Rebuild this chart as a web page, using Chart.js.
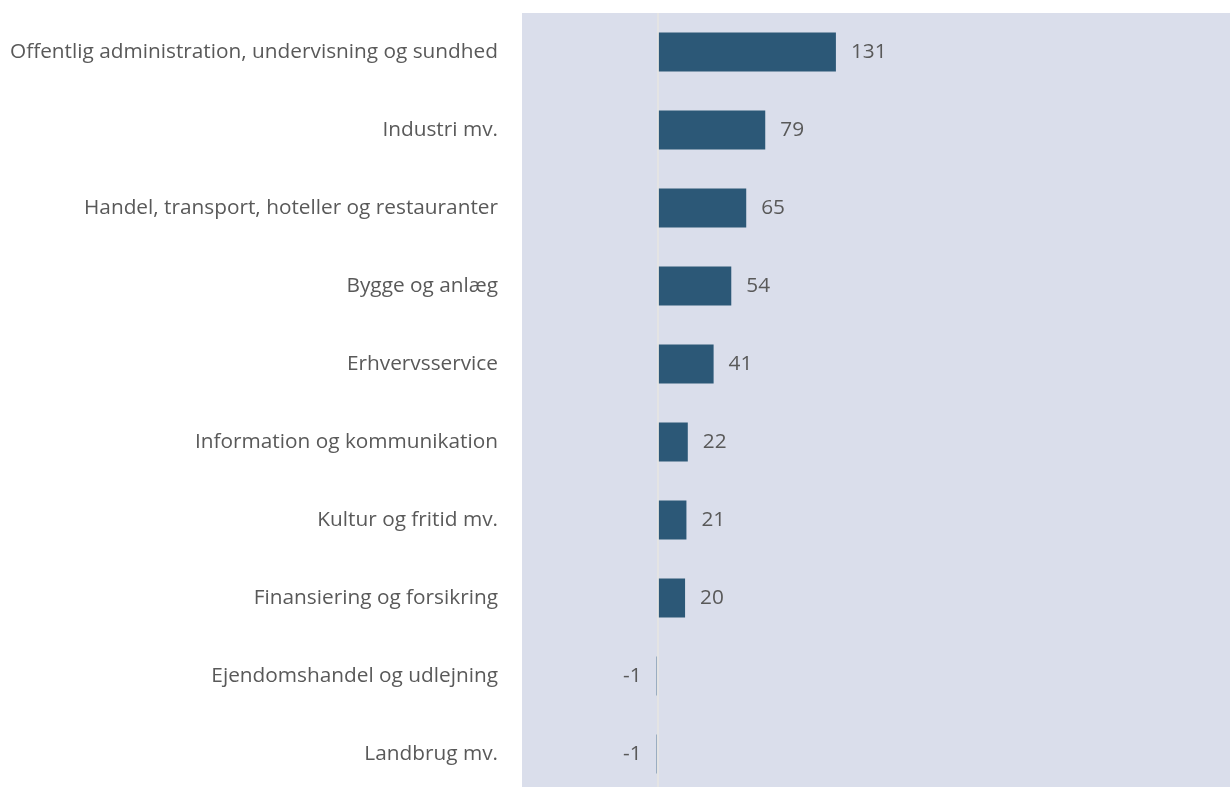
<!DOCTYPE html>
<html>
<head>
<meta charset="utf-8">
<script src="https://cdn.jsdelivr.net/npm/chart.js@4"></script>
<style>
    html, body { margin: 0; padding: 0; background: #fff; overflow: hidden; }
    #wrap { width: 1230px; height: 800px; }
</style>
</head>
<body>
<div id="wrap"><canvas id="sectorChart"></canvas></div>
<script>
const categories = [
    'Offentlig administration, undervisning og sundhed',
    'Industri mv.',
    'Handel, transport, hoteller og restauranter',
    'Bygge og anlæg',
    'Erhvervsservice',
    'Information og kommunikation',
    'Kultur og fritid mv.',
    'Finansiering og forsikring',
    'Ejendomshandel og udlejning',
    'Landbrug mv.'
];
const values = [131, 79, 65, 54, 41, 22, 21, 20, -1, -1];

const textColor = '#595959';
const fontFamily = "'Open Sans', 'Noto Sans', sans-serif";
const fontSize = 20.8;

// Light lavender plot background
const plotBackground = {
    id: 'plotBackground',
    beforeDraw(chart) {
        const { ctx, chartArea } = chart;
        ctx.save();
        ctx.fillStyle = '#dadeeb';
        ctx.fillRect(chartArea.left, chartArea.top, chartArea.right - chartArea.left, chartArea.bottom - chartArea.top);
        ctx.restore();
    }
};

// Value labels next to each bar
const valueLabels = {
    id: 'valueLabels',
    afterDatasetsDraw(chart) {
        const { ctx } = chart;
        const meta = chart.getDatasetMeta(0);
        ctx.save();
        ctx.fillStyle = textColor;
        ctx.font = fontSize + 'px ' + fontFamily;
        ctx.textBaseline = 'middle';
        meta.data.forEach((bar, i) => {
            const v = values[i];
            if (v >= 0) {
                ctx.textAlign = 'left';
                ctx.fillText(String(v), bar.x + 15, bar.y);
            } else {
                ctx.textAlign = 'right';
                ctx.fillText(String(v), bar.x - 15, bar.y);
            }
        });
        ctx.restore();
    }
};

new Chart(document.getElementById('sectorChart').getContext('2d'), {
    type: 'bar',
    data: {
        labels: categories,
        datasets: [{
            data: values,
            backgroundColor: '#2c5877',
            borderWidth: 0,
            barPercentage: 0.5,
            categoryPercentage: 1.0
        }]
    },
    options: {
        indexAxis: 'y',
        responsive: true,
        maintainAspectRatio: false,
        animation: false,
        layout: {
            padding: { top: 13, bottom: 7, right: 0, left: 0 }
        },
        plugins: {
            legend: { display: false },
            tooltip: { enabled: false }
        },
        scales: {
            x: {
                min: -100,
                max: 421,
                ticks: { display: false, stepSize: 50 },
                border: { display: false },
                grid: {
                    drawTicks: false,
                    lineWidth: 2,
                    color: (c) => (c.tick && c.tick.value === 0) ? '#e4e4e4' : 'rgba(0,0,0,0)'
                },
                afterFit(scale) {
                    scale.height = 0;
                }
            },
            y: {
                border: { display: false },
                grid: { display: false, drawTicks: false },
                ticks: {
                    color: textColor,
                    padding: 24,
                    font: { family: fontFamily, size: fontSize }
                },
                afterFit(scale) {
                    scale.width = 522;
                    scale.paddingTop = 0;
                    scale.paddingBottom = 0;
                }
            }
        }
    },
    plugins: [plotBackground, valueLabels]
});
</script>
</body>
</html>
